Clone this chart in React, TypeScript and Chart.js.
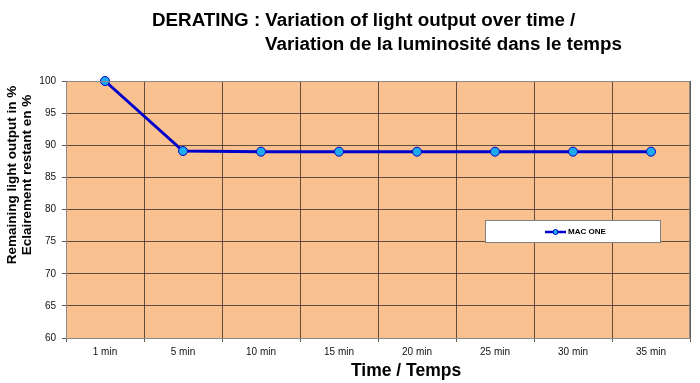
import React, { useEffect, useRef } from "react";
import { Chart, registerables } from "chart.js";

Chart.register(...registerables);

const categories = ["1 min", "5 min", "10 min", "15 min", "20 min", "25 min", "30 min", "35 min"];
const macOne = [100, 89.1, 89.0, 89.0, 89.0, 89.0, 89.0, 89.0];
const seriesName = "MAC ONE";
const titleLine1 = "DERATING : Variation of light output over time /";
const titleLine2 = "Variation de la luminosité dans le temps";
const yTitle1 = "Remaining light output in %";
const yTitle2 = "Eclairement restant en %";
const xTitle = "Time / Temps";
const yMin = 60;
const yMax = 100;
const yStep = 5;

const FONT = "'Liberation Sans', Arial, sans-serif";

const decorPlugin = {
  id: "decor",
  beforeDraw(chart: any) {
    const { ctx, chartArea } = chart;
    ctx.save();
    ctx.fillStyle = "#ffffff";
    ctx.fillRect(0, 0, chart.width, chart.height);
    ctx.fillStyle = "#F9C18F";
    ctx.fillRect(chartArea.left, chartArea.top, chartArea.right - chartArea.left, chartArea.bottom - chartArea.top);
    ctx.restore();
  },
  afterDraw(chart: any) {
    const { ctx, chartArea } = chart;
    ctx.save();
    // plot border
    ctx.strokeStyle = "#8a8a8a";
    ctx.lineWidth = 1;
    ctx.beginPath();
    ctx.moveTo(chartArea.left + 0.5, chartArea.top + 0.5);
    ctx.lineTo(chartArea.right - 0.5, chartArea.top + 0.5);
    ctx.lineTo(chartArea.right - 0.5, chartArea.bottom);
    ctx.stroke();

    // titles
    ctx.fillStyle = "#000";
    ctx.font = `bold 18.8px ${FONT}`;
    ctx.textBaseline = "middle";
    ctx.textAlign = "left";
    ctx.fillText(titleLine1, 152, 21);
    ctx.fillText(titleLine2, 265, 45);

    ctx.textAlign = "center";
    ctx.font = `bold 17.5px ${FONT}`;
    ctx.fillText(xTitle, 406, 371);

    ctx.font = `bold 13.5px ${FONT}`;
    ctx.save();
    ctx.translate(12, 175);
    ctx.rotate(-Math.PI / 2);
    ctx.fillText(yTitle1, 0, 0);
    ctx.restore();
    ctx.save();
    ctx.translate(27, 175);
    ctx.rotate(-Math.PI / 2);
    ctx.fillText(yTitle2, 0, 0);
    ctx.restore();

    // legend box
    const lx = 485, ly = 220, lw = 175, lh = 22;
    ctx.fillStyle = "#ffffff";
    ctx.fillRect(lx, ly, lw, lh);
    ctx.strokeStyle = "#808080";
    ctx.lineWidth = 1;
    ctx.strokeRect(lx + 0.5, ly + 0.5, lw, lh);
    const cy = ly + 12;
    ctx.strokeStyle = "#0000CC";
    ctx.lineWidth = 2.5;
    ctx.beginPath();
    ctx.moveTo(545, cy);
    ctx.lineTo(566, cy);
    ctx.stroke();
    ctx.beginPath();
    ctx.arc(555.5, cy, 2.5, 0, Math.PI * 2);
    ctx.fillStyle = "#1EAAF0";
    ctx.fill();
    ctx.lineWidth = 1;
    ctx.strokeStyle = "#0000CC";
    ctx.stroke();
    ctx.fillStyle = "#000";
    ctx.font = `bold 8px ${FONT}`;
    ctx.textAlign = "left";
    ctx.fillText(seriesName, 568, cy);
    ctx.restore();
  },
};

export default function App() {
  const ref = useRef<HTMLCanvasElement>(null);
  useEffect(() => {
    document.body.style.margin = "0";
    const chart = new Chart(ref.current!, {
      type: "line",
      data: {
        labels: categories,
        datasets: [
          {
            label: seriesName,
            data: macOne,
            borderColor: "#0000CC",
            borderWidth: 3,
            pointRadius: 4.5,
            pointBackgroundColor: "#1EAAF0",
            pointBorderColor: "#0000CC",
            pointBorderWidth: 1,
            tension: 0,
            clip: false,
          },
        ],
      },
      options: {
        responsive: false,
        animation: false,
        layout: { padding: { left: 26, top: 81, right: 10, bottom: 25 } },
        plugins: {
          legend: { display: false },
          title: { display: false },
          tooltip: { enabled: false },
        },
        scales: {
          x: {
            offset: true,
            grid: {
              offset: true,
              color: "rgba(60,48,40,0.8)",
              lineWidth: 1,
              drawTicks: true,
              tickLength: 4,
            },
            border: { color: "#8a8a8a" },
            ticks: { color: "#111", font: { family: FONT, size: 10 }, padding: 4 },
            afterFit(scale: any) {
              scale.height = 20;
            },
          },
          y: {
            min: yMin,
            max: yMax,
            grid: {
              color: "rgba(60,48,40,0.8)",
              lineWidth: 1,
              drawTicks: true,
              tickLength: 4,
            },
            border: { color: "#8a8a8a" },
            ticks: { stepSize: yStep, color: "#111", font: { family: FONT, size: 10 }, padding: 6 },
            afterFit(scale: any) {
              scale.width = 40;
            },
          },
        },
      },
      plugins: [decorPlugin],
    });
    return () => chart.destroy();
  }, []);
  return (
    <div style={{ position: "fixed", left: 0, top: 0, width: 700, height: 383 }}>
      <canvas ref={ref} width={700} height={383} />
    </div>
  );
}
